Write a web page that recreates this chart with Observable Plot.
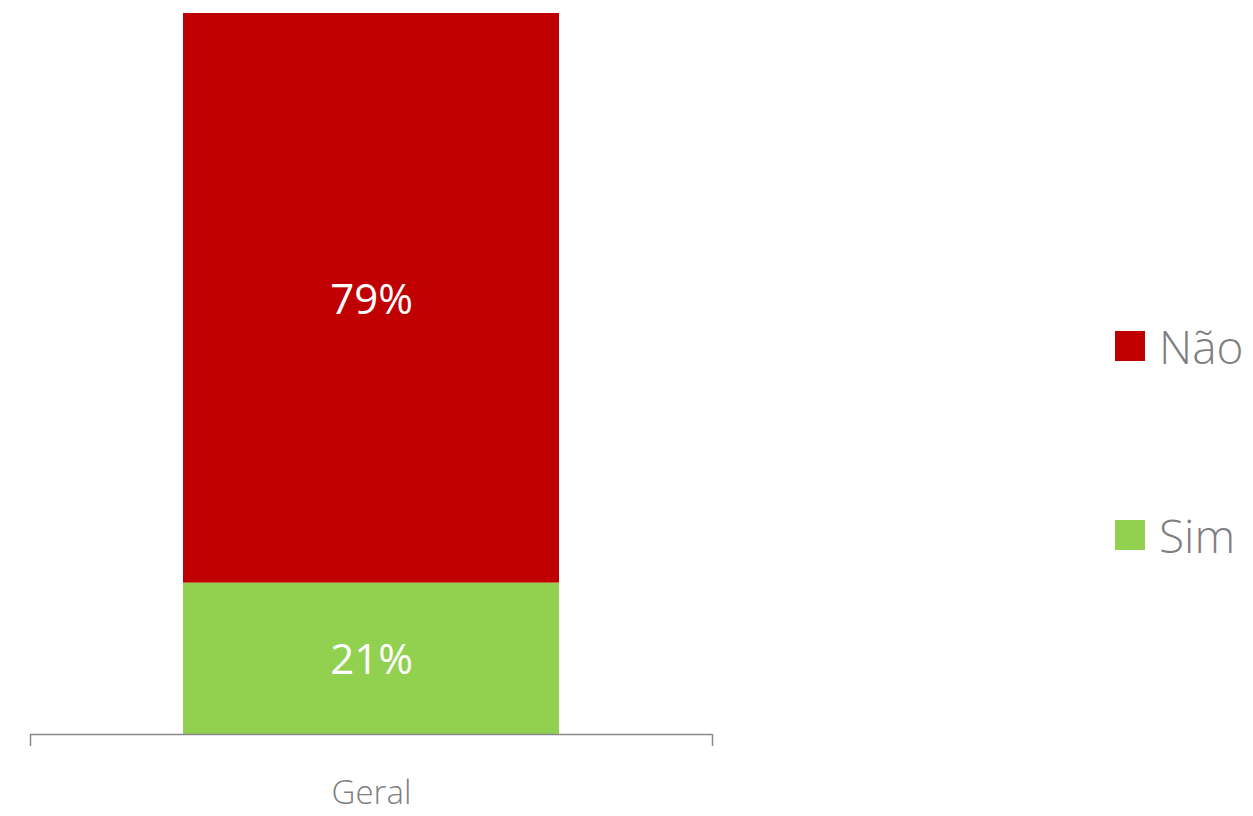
<!DOCTYPE html>
<html>
<head>
<meta charset="utf-8">
<script src="https://cdn.jsdelivr.net/npm/d3@7"></script>
<script src="https://cdn.jsdelivr.net/npm/@observablehq/plot@0.6"></script>
<style>
  body { margin: 0; background: #fff; font-family: "Open Sans", "Noto Sans", sans-serif; }
  #wrap { position: relative; width: 1253px; height: 816px; }
  .legend { position: absolute; left: 1115px; top: 0; font-weight: 300; color: #7f7f7f; font-size: 46px; }
  .item { position: absolute; left: 0; display: flex; align-items: center; white-space: nowrap; }
  .sw { width: 30px; height: 30px; margin-right: 14px; }
</style>
</head>
<body>
<div id="wrap"></div>
<script>
const categories = ["Geral"];
const series = ["Sim", "Não"];
const values = [0.21, 0.79];
const labels = ["21%", "79%"];
const colors = ["#92D050", "#C00000"];

const data = series.map((s, i) => ({cat: categories[0], serie: s, value: values[i], label: labels[i]}));

const W = 1253, H = 816;
const mL = 30, mR = 541, mT = 13, mB = 82;
const band = W - mL - mR;
const inset = (band - 376) / 2;

const chart = Plot.plot({
  width: W,
  height: H,
  marginLeft: mL,
  marginRight: mR,
  marginTop: mT,
  marginBottom: mB,
  style: {fontFamily: '"Open Sans", "Noto Sans", sans-serif', background: "#fff"},
  x: {domain: categories, padding: 0, label: null},
  y: {domain: [0, 1], axis: null},
  color: {domain: series, range: colors},
  marks: [
    Plot.barY(data, Plot.stackY({x: "cat", y: "value", fill: "serie", insetLeft: inset, insetRight: inset})),
    Plot.text(data, Plot.stackY({x: "cat", y: "value", text: "label", fill: "white", fontSize: 42, dy: 2})),
    Plot.ruleY([0], {stroke: "#898989", strokeWidth: 1.5}),
    Plot.ruleX(categories, {x: d => d, y1: 0, y2: 0, insetBottom: -12, dx: -band / 2, stroke: "#898989", strokeWidth: 1.5}),
    Plot.ruleX(categories, {x: d => d, y1: 0, y2: 0, insetBottom: -12, dx: band / 2, stroke: "#898989", strokeWidth: 1.5}),
    Plot.axisX({tickSize: 0, tickPadding: 46, fontSize: 33, fill: "#7f7f7f", fontWeight: 300, label: null})
  ]
});

const wrap = document.getElementById("wrap");
wrap.appendChild(chart);

const legend = document.createElement("div");
legend.className = "legend";
const tops = {"Não": 346, "Sim": 535};
[...series].reverse().forEach(s => {
  const it = document.createElement("div");
  it.className = "item";
  it.style.top = (tops[s] - 30) + "px";
  it.style.height = "60px";
  const sw = document.createElement("div");
  sw.className = "sw";
  sw.style.background = colors[series.indexOf(s)];
  const t = document.createElement("span");
  t.textContent = s;
  it.appendChild(sw);
  it.appendChild(t);
  legend.appendChild(it);
});
wrap.appendChild(legend);
</script>
</body>
</html>
